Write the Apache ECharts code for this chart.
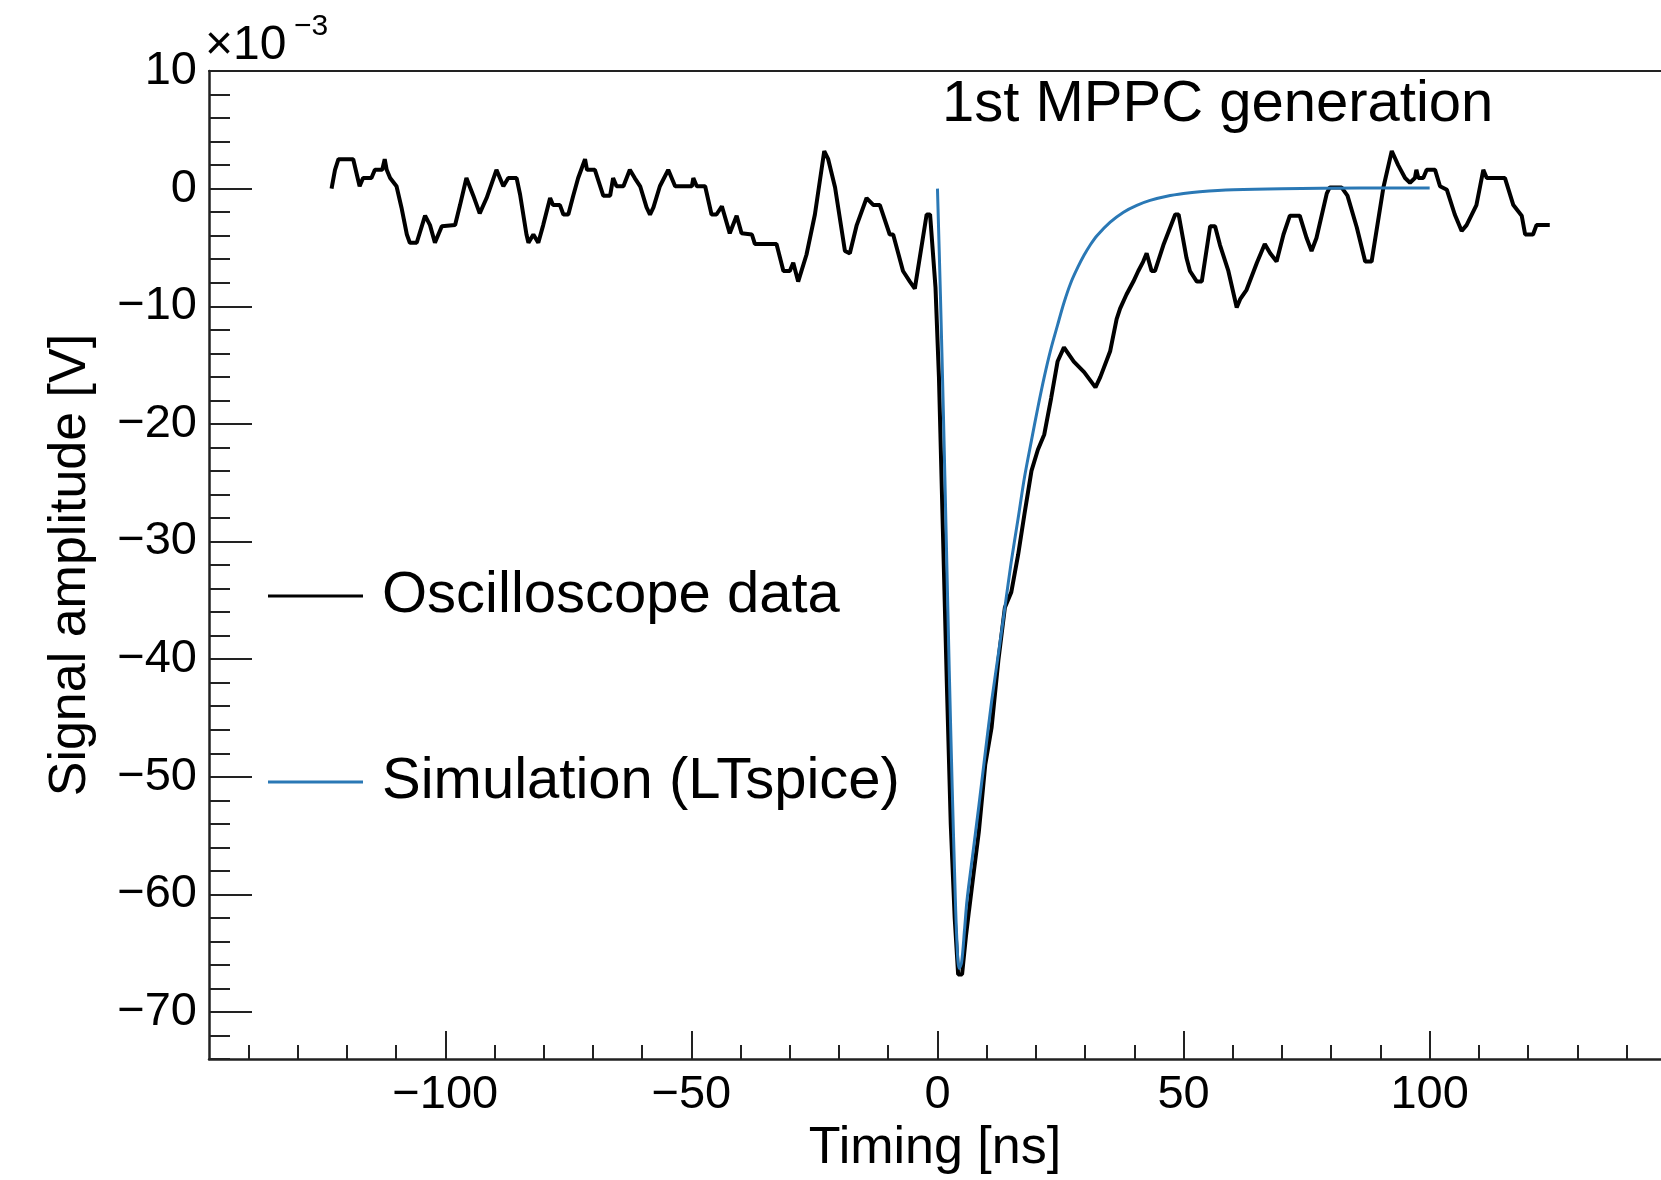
<!DOCTYPE html>
<html>
<head>
<meta charset="utf-8">
<script src="https://cdn.jsdelivr.net/npm/echarts@6/dist/echarts.min.js"></script>
<style>
html,body{margin:0;padding:0;background:#fff;overflow:hidden;}
#chart{width:1661px;height:1180px;}
</style>
</head>
<body>
<div id="chart"></div>
<script>
// Oscilloscope data: time [ns], amplitude [mV]
const oscTime = [-123.1,-122.4,-121.7,-118.7,-117.4,-116.7,-115.0,-114.3,-112.8,-112.3,-111.9,-111.2,-109.9,-108.9,-107.8,-107.2,-105.8,-104.1,-103.1,-102.1,-100.7,-98.0,-97.0,-95.7,-94.3,-93.0,-91.6,-89.6,-88.2,-87.2,-85.5,-84.8,-83.5,-83.1,-82.1,-81.1,-80.1,-78.7,-78.1,-76.7,-76.0,-75.0,-74.0,-73.0,-71.6,-71.2,-69.6,-67.9,-66.5,-65.9,-65.2,-63.8,-62.5,-61.5,-60.4,-59.1,-58.4,-57.7,-56.4,-54.7,-53.3,-49.9,-49.6,-48.9,-47.2,-45.9,-44.9,-43.8,-42.2,-40.8,-39.8,-37.7,-37.1,-32.7,-31.3,-30.0,-29.3,-28.3,-26.6,-24.9,-23.0,-22.2,-20.8,-18.8,-17.8,-16.4,-14.4,-13.0,-11.7,-9.7,-9.0,-7.0,-5.6,-4.6,-2.2,-1.5,-0.4,0.3,1.1,1.9,2.7,3.5,4.2,5.0,5.8,6.4,7.4,8.4,9.7,11.0,12.4,13.7,15.0,16.4,17.7,19.1,20.4,21.7,23.1,24.4,25.7,27.7,29.8,32.1,33.1,35.1,36.4,37.1,38.4,39.8,40.8,41.8,42.5,43.5,44.2,45.9,48.3,49.0,50.6,51.3,52.7,53.7,55.4,56.4,57.4,59.1,60.8,61.5,62.8,64.9,66.5,67.6,68.9,70.3,71.6,73.6,75.0,76.0,77.0,79.1,79.7,82.1,83.3,85.2,86.9,88.2,90.6,92.3,93.6,95.0,96.0,97.0,97.3,97.7,98.7,99.4,101.1,102.1,103.5,105.1,106.5,107.5,109.5,110.9,111.6,115.3,117.0,118.7,119.4,121.0,121.7,124.4];
const oscAmp = [0.0,1.6,2.5,2.5,0.2,0.9,0.9,1.6,1.6,2.5,1.6,0.9,0.2,-1.6,-3.9,-4.6,-4.6,-2.3,-3.1,-4.6,-3.2,-3.1,-1.4,0.9,-0.6,-2.1,-0.8,1.6,0.2,0.9,0.9,-0.5,-3.9,-4.6,-3.9,-4.6,-3.1,-0.8,-1.4,-1.4,-2.2,-2.2,-0.6,0.9,2.5,1.6,1.6,-0.6,-0.6,0.9,0.2,0.2,1.6,0.9,0.2,-1.6,-2.2,-1.6,0.2,1.6,0.2,0.2,0.9,0.2,0.2,-2.2,-2.2,-1.5,-3.8,-2.3,-3.8,-3.9,-4.7,-4.7,-7.0,-7.0,-6.3,-7.9,-5.6,-2.2,3.2,2.5,0.1,-5.3,-5.5,-3.1,-0.8,-1.4,-1.4,-3.9,-3.9,-7.0,-7.9,-8.5,-2.2,-2.2,-8.4,-16.0,-29.0,-42.0,-54.0,-62.0,-66.8,-66.8,-63.5,-61.4,-58.0,-54.7,-49.0,-45.8,-40.0,-35.6,-34.3,-31.1,-27.6,-24.0,-22.2,-20.9,-17.8,-14.7,-13.5,-14.7,-15.6,-16.9,-16.0,-13.8,-11.1,-10.2,-9.0,-7.9,-7.0,-6.2,-5.5,-7.0,-7.0,-4.8,-2.2,-2.2,-5.9,-7.0,-7.9,-7.9,-3.2,-3.2,-4.8,-7.0,-10.1,-9.4,-8.6,-6.3,-4.7,-5.5,-6.2,-3.9,-2.3,-2.3,-4.2,-5.3,-4.2,-0.4,0.1,0.1,-0.6,-3.3,-6.2,-6.2,0.1,3.2,2.0,0.9,0.5,0.9,1.6,0.9,0.9,1.6,1.6,0.2,-0.1,-2.2,-3.6,-3.1,-1.4,1.6,0.9,0.9,-1.4,-2.3,-3.9,-3.9,-3.1,-3.1];

// LTspice simulation: time [ns], amplitude [mV]
const simTime = [0.0,0.6,1.2,1.8,2.4,3.0,3.5,3.9,4.4,4.9,5.5,6.0,7.2,8.4,9.7,11.0,12.4,13.7,15.0,16.4,17.7,19.1,20.4,21.7,23.0,24.4,25.7,27.1,28.5,29.8,31.1,32.4,35.1,37.8,40.5,43.2,46.6,50.0,53.3,60.1,70.0,85.8,100.0];
const simAmp = [0.0,-9.0,-19.0,-30.0,-41.0,-51.0,-58.5,-63.5,-66.3,-65.8,-63.0,-60.5,-56.5,-52.5,-48.0,-43.6,-39.5,-35.6,-31.7,-28.0,-24.5,-21.4,-18.6,-16.0,-13.7,-11.6,-9.7,-8.0,-6.7,-5.65,-4.75,-4.0,-2.85,-2.0,-1.42,-1.0,-0.65,-0.42,-0.27,-0.1,0.0,0.06,0.06];

// Axis ticks
const xMajorTicks = [-100,-50,0,50,100];
const xMinorTicks = [-140,-130,-120,-110,-90,-80,-70,-60,-40,-30,-20,-10,10,20,30,40,60,70,80,90,110,120,130,140];
const yMajorTicks = [-70,-60,-50,-40,-30,-20,-10,0,10];
const yMinorTicks = [-74,-72,-68,-66,-64,-62,-58,-56,-54,-52,-48,-46,-44,-42,-38,-36,-34,-32,-28,-26,-24,-22,-18,-16,-14,-12,-8,-6,-4,-2,2,4,6,8];

const seriesNames = ['Oscilloscope data','Simulation (LTspice)'];
const seriesColors = ['#000000','#2a78b5'];
const chartTitle = '1st MPPC generation';
const xTitle = 'Timing [ns]';
const yTitle = 'Signal amplitude [V]';

const FONT = "'Liberation Sans', Arial, Helvetica, sans-serif";
const XMIN = -148, XMAX = 147, YMIN = -74, YMAX = 10;
const oscData = oscTime.map((t,i)=>[t, oscAmp[i]]);
const simData = simTime.map((t,i)=>[t, simAmp[i]]);
const minus = v => String(v).replace('-', '\u2212');

const chart = echarts.init(document.getElementById('chart'), null, {renderer:'canvas'});
chart.setOption({
  animation: false,
  backgroundColor: '#fff',
  title: [
    {text: chartTitle, left: 942, top: 76, textStyle:{fontFamily:FONT, fontSize:58, fontWeight:'normal', color:'#000', lineHeight:58}, padding:0},
    {text: '\u00d710', left: 205, top: 22, textStyle:{fontFamily:FONT, fontSize:48, fontWeight:'normal', color:'#000', lineHeight:48}, padding:0},
    {text: '\u22123', left: 294, top: 12, textStyle:{fontFamily:FONT, fontSize:30, fontWeight:'normal', color:'#000', lineHeight:30}, padding:0}
  ],
  legend: {
    data: seriesNames.map((n,i)=>({name:n, icon:'rect', itemStyle:{color:seriesColors[i]}})),
    orient: 'vertical',
    left: 268, top: 567,
    itemWidth: 95, itemHeight: 3, itemGap: 128,
    padding: 0,
    textStyle: {fontFamily:FONT, fontSize:58, color:'#000', lineHeight:58, padding:[0,0,0,14]}
  },
  grid: {left: 209, right: 0, top: 71, bottom: 120, show: false},
  xAxis: [
    {
      type:'value', min:XMIN, max:XMAX, position:'bottom',
      name: xTitle, nameLocation:'middle', nameGap: 58,
      nameTextStyle:{fontFamily:FONT, fontSize:52, color:'#000'},
      axisLine:{show:true, onZero:false, lineStyle:{color:'#222', width:2.5}},
      axisTick:{show:true, inside:true, length:14, customValues:xMinorTicks, lineStyle:{color:'#222', width:2}},
      axisLabel:{customValues:xMajorTicks, margin:12, fontFamily:FONT, fontSize:47, color:'#000', formatter:minus},
      splitLine:{show:false}
    },
    {
      type:'value', min:XMIN, max:XMAX, position:'bottom', offset:0,
      axisLine:{show:false, onZero:false},
      axisTick:{show:true, inside:true, length:28, customValues:xMajorTicks, lineStyle:{color:'#222', width:2}},
      axisLabel:{show:false},
      splitLine:{show:false}
    },
    {
      type:'value', min:XMIN, max:XMAX, position:'top', offset:0,
      axisLine:{show:true, onZero:false, lineStyle:{color:'#222', width:2}},
      axisTick:{show:false},
      axisLabel:{show:false},
      splitLine:{show:false}
    }
  ],
  yAxis: [
    {
      type:'value', min:YMIN, max:YMAX, position:'left',
      name: yTitle, nameLocation:'middle', nameGap: 112,
      nameTextStyle:{fontFamily:FONT, fontSize:52, color:'#000'},
      axisLine:{show:true, onZero:false, lineStyle:{color:'#222', width:2.5}},
      axisTick:{show:true, inside:true, length:43, customValues:yMajorTicks, lineStyle:{color:'#222', width:2}},
      axisLabel:{customValues:yMajorTicks, margin:12, fontFamily:FONT, fontSize:47, color:'#000', formatter:minus},
      splitLine:{show:false}
    },
    {
      type:'value', min:YMIN, max:YMAX, position:'left', offset:0,
      axisLine:{show:false, onZero:false},
      axisTick:{show:true, inside:true, length:21, customValues:yMinorTicks, lineStyle:{color:'#222', width:2}},
      axisLabel:{show:false},
      splitLine:{show:false}
    }
  ],
  series: [
    {name: seriesNames[0], type:'line', data: oscData, symbol:'none', xAxisIndex:0, yAxisIndex:0,
     lineStyle:{color:seriesColors[0], width:4}, itemStyle:{color:seriesColors[0]}, z:2},
    {name: seriesNames[1], type:'line', data: simData, symbol:'none', smooth:0.3, xAxisIndex:0, yAxisIndex:0,
     lineStyle:{color:seriesColors[1], width:3}, itemStyle:{color:seriesColors[1]}, z:3}
  ]
});
</script>
</body>
</html>
